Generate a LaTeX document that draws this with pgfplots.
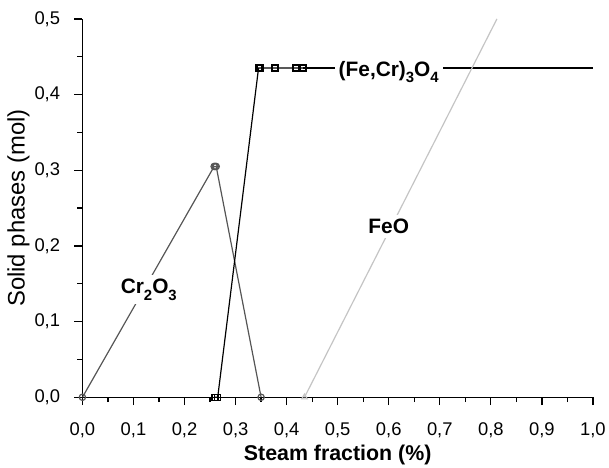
\documentclass[border=0pt]{standalone}
\usepackage{fontspec}
\setmainfont{Liberation Sans}
\usepackage{pgfplots}
\pgfplotsset{compat=1.18}
\definecolor{crcol}{HTML}{555555}
\definecolor{feocol}{HTML}{C4C4C4}
\newcommand{\sub}[1]{\raisebox{-0.55ex}{\fontsize{15}{15}\selectfont #1}}
\begin{document}
\begin{tikzpicture}
\begin{axis}[
  at={(0pt,0pt)}, anchor=south west,
  scale only axis, width=514pt, height=381pt,
  xmin=0, xmax=1, ymin=0, ymax=0.5,
  axis x line*=bottom, axis y line*=left,
  axis line style={line width=1.3pt},
  tick align=outside,
  xtick={0,0.1,...,1.0}, ytick={0,0.1,...,0.5},
  minor tick num=1,
  major tick length=8pt, minor tick length=5pt,
  every tick/.style={line width=1.3pt, black},
  /pgf/number format/.cd, fixed, fixed zerofill, precision=1, use comma, assume math mode=true,
  /pgfplots/.cd,
  tick label style={font=\fontsize{18.5}{20}\selectfont},
  xticklabel style={yshift=-14pt},
  yticklabel style={xshift=-11pt},
  xlabel={\textbf{Steam fraction (\%)}},
  ylabel={Solid phases (mol)},
  xlabel style={font=\fontsize{21.5}{24}\selectfont, yshift=0pt},
  ylabel style={font=\fontsize{24}{26}\selectfont, yshift=-2pt},
  clip=true,
]
% Cr2O3
\addplot[color=crcol, line width=1.2pt, mark=o, mark size=3.2pt, mark options={line width=1.2pt}]
  coordinates {(0,0) (0.258,0.305) (0.26,0.305) (0.262,0.305) (0.35,0)};
% (Fe,Cr)3O4
\addplot[color=black, line width=1.2pt, mark=square, mark size=3pt, mark options={line width=1.4pt}]
  coordinates {(0.26,0) (0.265,0) (0.345,0.435) (0.348,0.435) (0.377,0.435) (0.418,0.435) (0.432,0.435)};
\addplot[color=black, line width=1.2pt] coordinates {(0.432,0.435) (1.0,0.435)};
% FeO
\addplot[color=feocol, line width=1.2pt, mark=triangle, mark size=3.2pt, mark options={line width=1.2pt}, mark repeat=100]
  coordinates {(0.435,0) (0.812,0.5)};
\node[fill=white, inner sep=4pt, font=\fontsize{21}{23}\selectfont\bfseries] at (axis cs:0.60,0.430) {(Fe,Cr)\sub{3}O\sub{4}};
\node[fill=white, inner sep=4pt, font=\fontsize{21}{23}\selectfont\bfseries] at (axis cs:0.13,0.142) {Cr\sub{2}O\sub{3}};
\node[fill=white, inner sep=4pt, font=\fontsize{21}{23}\selectfont\bfseries] at (axis cs:0.60,0.226) {FeO};
\end{axis}
\path (-83pt,-65pt) rectangle (526pt,400pt);
\end{tikzpicture}
\end{document}
